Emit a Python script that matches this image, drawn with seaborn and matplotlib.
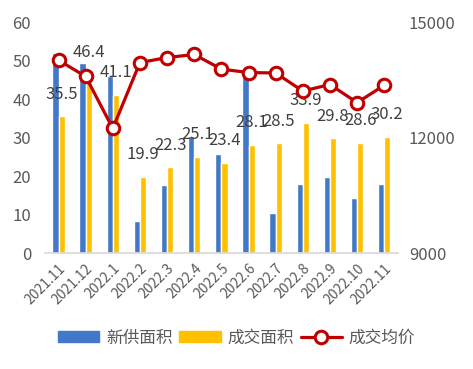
import numpy as np
import pandas as pd
import matplotlib
matplotlib.use('Agg')
import matplotlib.pyplot as plt
from matplotlib.patches import Patch
from matplotlib.lines import Line2D
import seaborn as sns

# data
months = ['2021.11', '2021.12', '2022.1', '2022.2', '2022.3', '2022.4', '2022.5',
          '2022.6', '2022.7', '2022.8', '2022.9', '2022.10', '2022.11']
new_supply = [52.1, 49.3, 45.9, 8.3, 17.7, 30.3, 25.8, 46.2, 10.4, 18.0, 19.8, 14.3, 18.0]
deal_area = [35.5, 46.4, 41.1, 19.9, 22.3, 25.1, 23.4, 28.1, 28.5, 33.9, 29.8, 28.6, 30.2]
deal_price = [14010, 13590, 12240, 13950, 14080, 14160, 13780, 13690, 13680, 13210, 13380, 12910, 13360]

series_names = ['新供面积', '成交面积', '成交均价']
colors = ['#4278C8', '#FFC000', '#C00000']

sns.set_style('white')
plt.rcParams['font.family'] = ['Noto Sans CJK SC', 'DejaVu Sans']

df = pd.DataFrame({
    'month': months * 2,
    'area': new_supply + deal_area,
    'series': [series_names[0]] * len(months) + [series_names[1]] * len(months),
})

fig = plt.figure(figsize=(4.73, 3.69), dpi=100)
ax = fig.add_axes([0.095, 0.314, 0.746, 0.626])

sns.barplot(data=df, x='month', y='area', hue='series', palette=colors[:2],
            width=0.46, ax=ax, legend=False, saturation=1)

ax.set_ylim(0, 60)
ax.set_yticks(range(0, 61, 10))
ax.set_xlim(-0.5, len(months) - 0.5)
ax.set_xlabel('')
ax.set_ylabel('')

# data labels for 成交面积
x = np.arange(len(months))
for xi, v in zip(x, deal_area):
    ax.annotate(f'{v}', (xi + 0.11, v), xytext=(0, 16), textcoords='offset points',
                ha='center', va='center', fontsize=12, color='#404040')

# price line on right axis
ax2 = ax.twinx()
sns.lineplot(x=x, y=deal_price, ax=ax2, color=colors[2], linewidth=2.3,
             marker='o', markersize=9, markerfacecolor='white',
             markeredgecolor=colors[2], markeredgewidth=2.2)
ax2.set_ylim(9000, 15000)
ax2.set_yticks([9000, 12000, 15000])
ax2.set_xlim(-0.5, len(months) - 0.5)

for a in (ax, ax2):
    for s in a.spines.values():
        s.set_visible(False)
    a.tick_params(axis='y', length=0, labelsize=12, labelcolor='#595959')
ax.spines['bottom'].set_visible(True)
ax.spines['bottom'].set_color('#D9D9D9')
ax.spines['bottom'].set_linewidth(1.2)
ax.tick_params(axis='y', pad=10)
ax2.tick_params(axis='y', pad=8)

ax.set_xticks(x)
ax.set_xticklabels(months, rotation=45, ha='right', rotation_mode='anchor',
                   fontsize=10, color='#595959')
ax.tick_params(axis='x', which='major', length=0, pad=6)
ax.set_xticks(np.arange(-0.5, len(months), 1), minor=True)
ax.tick_params(axis='x', which='minor', length=5, color='#D9D9D9', width=1.2)

handles = [Patch(color=colors[0]), Patch(color=colors[1]),
           Line2D([], [], color=colors[2], linewidth=2.3, marker='o', markersize=9,
                  markerfacecolor='white', markeredgewidth=2.2)]
fig.legend(handles, series_names, loc='center', bbox_to_anchor=(0.5, 1 - 338 / 369),
           ncol=3, frameon=False, fontsize=12, handlelength=2.5, handleheight=0.6,
           handletextpad=0.4, columnspacing=0.4, labelcolor='#595959')

fig.savefig('out.png', dpi=100)
